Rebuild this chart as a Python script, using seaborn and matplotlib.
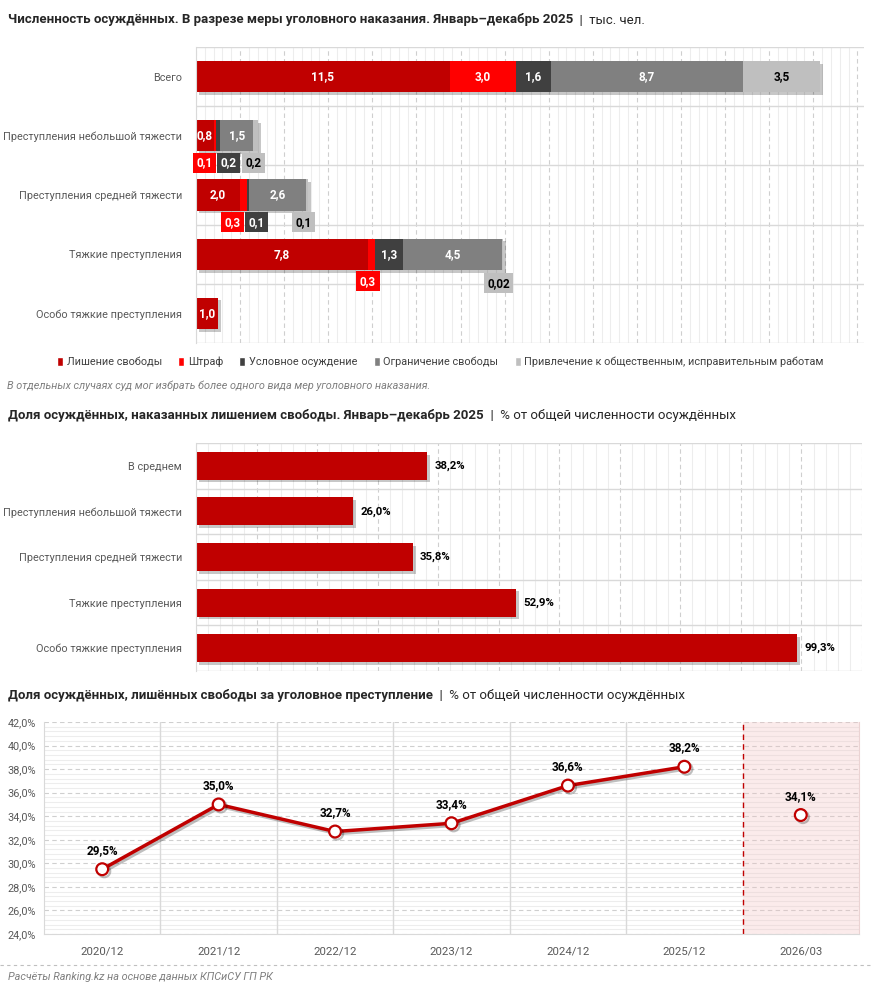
import matplotlib
matplotlib.use("Agg")
import matplotlib.pyplot as plt
import matplotlib.patheffects as pe
from matplotlib.patches import Patch
from matplotlib.lines import Line2D
from matplotlib.ticker import MultipleLocator, FuncFormatter, NullFormatter
import seaborn as sns
import numpy as np
import pandas as pd

# Численность осуждённых по мерам наказания, тыс. чел.
crime_groups = ["Всего", "Преступления небольшой тяжести", "Преступления средней тяжести",
                "Тяжкие преступления", "Особо тяжкие преступления"]
measures = ["Лишение свободы", "Штраф", "Условное осуждение", "Ограничение свободы",
            "Привлечение к общественным, исправительным работам"]
prison = [11.5, 0.8, 2.0, 7.8, 1.0]
fine = [3.0, 0.1, 0.3, 0.3, 0.0]
probation = [1.6, 0.2, 0.1, 1.3, 0.0]
restriction = [8.7, 1.5, 2.6, 4.5, 0.0]
community = [3.5, 0.2, 0.1, 0.02, 0.0]

# Доля лишённых свободы, %
share_groups = ["В среднем", "Преступления небольшой тяжести", "Преступления средней тяжести",
                "Тяжкие преступления", "Особо тяжкие преступления"]
share_prison = [38.2, 26.0, 35.8, 52.9, 99.3]

# Динамика доли, %
periods = ["2020/12", "2021/12", "2022/12", "2023/12", "2024/12", "2025/12", "2026/03"]
share_trend = [29.5, 35.0, 32.7, 33.4, 36.6, 38.2, 34.1]
n_full_years = 6

colors = ["#C00000", "#FF0000", "#404040", "#808080", "#BFBFBF"]
text_colors = ["white", "white", "white", "white", "black"]
GRAY_TXT = "#595959"

W, H = 872, 991
sns.set_style("white")
plt.rcParams["font.family"] = ["Roboto", "DejaVu Sans"]

fig = plt.figure(figsize=(W / 100, H / 100), dpi=100)


def fy(px):
    return 1 - px / H


def fmt(v, pct=False):
    s = f"{v:.1f}" if round(v, 1) == v else f"{v:.2f}"
    s = s.replace(".", ",")
    return s + "%" if pct else s


def title(y_px, bold, regular):
    t = fig.text(8 / W, fy(y_px), bold, fontsize=9.5, fontweight="bold", va="center")
    fig.canvas.draw()
    bb = t.get_window_extent()
    fig.text(bb.x1 / fig.bbox.width, fy(y_px), "  |  " + regular, fontsize=9.5, va="center")


def grid_style(ax, major, minor, axis):
    loc = ax.xaxis if axis == "x" else ax.yaxis
    loc.set_major_locator(MultipleLocator(major))
    loc.set_minor_locator(MultipleLocator(minor))
    ax.grid(which="major", axis=axis, ls=(0, (4, 3)), color="#CFCFCF", lw=0.8)
    ax.grid(which="minor", axis=axis, ls="-", color="#EDEDED", lw=0.8)
    ax.set_axisbelow(True)


shadow = [pe.withSimplePatchShadow(offset=(2, -2), shadow_rgbFace="black", alpha=0.22)]

# ---------- 1. Stacked bars ----------
title(20, "Численность осуждённых. В разрезе меры уголовного наказания. Январь–декабрь 2025", "тыс. чел.")
ax1 = fig.add_axes([196 / W, fy(343), 668 / W, 296 / H])
series = np.array([prison, fine, probation, restriction, community])
cums = series.cumsum(axis=0)
for k in reversed(range(len(measures))):
    sns.barplot(x=cums[k], y=crime_groups, color=colors[k], width=0.53, saturation=1,
                orient="h", errorbar=None, linewidth=0, ax=ax1)
for p in ax1.patches[:len(crime_groups)]:
    p.set_path_effects(shadow)

# подписи маленьких значений под столбцом: сдвиг по x (тыс. чел.)
small_nudge = {(1, 1): -0.45, (1, 2): 0.48, (1, 4): -0.1,
               (2, 1): -0.49, (2, 2): 0.39, (2, 4): -0.16,
               (3, 1): -0.15, (3, 4): -0.19}
for i in range(len(crime_groups)):
    for k in range(len(measures)):
        v = series[k][i]
        if v <= 0:
            continue
        center = cums[k][i] - v / 2
        if v >= 0.5:
            ax1.text(center, i, fmt(v), ha="center", va="center", color=text_colors[k],
                     fontsize=8.5, fontweight="bold")
        else:
            dy = 0.49 if k == 4 and i == 3 else 0.46
            ax1.text(center + small_nudge.get((i, k), 0), i + dy, fmt(v), ha="center", va="center",
                     color=text_colors[k], fontsize=8.5, fontweight="bold",
                     bbox=dict(boxstyle="square,pad=0.3", fc=colors[k], ec="none"))

ax1.set_xlim(0, 30.3)
ax1.set_ylim(len(crime_groups) - 0.5, -0.5)
grid_style(ax1, 2, 0.4, "x")
for b in np.arange(-0.5, len(crime_groups)):
    ax1.axhline(b, color="#D9D9D9", lw=1, zorder=0.6)
ax1.xaxis.set_major_formatter(NullFormatter())
ax1.tick_params(axis="both", which="both", length=0)
ax1.tick_params(axis="y", labelsize=7.8, labelcolor=GRAY_TXT, pad=10)
ax1.set_xlabel("")
ax1.set_ylabel("")
for s in ["top", "right", "bottom"]:
    ax1.spines[s].set_visible(False)
ax1.spines["left"].set_color("#D9D9D9")

handles = [Patch(facecolor=c, label=m) for c, m in zip(colors, measures)]
fig.legend(handles=handles, loc="center", bbox_to_anchor=(0.505, fy(362)), ncol=5, frameon=False,
           fontsize=7.8, handlelength=0.55, handleheight=0.9, handletextpad=0.35, columnspacing=1.5,
           labelcolor="#404040")
fig.text(7 / W, fy(386), "В отдельных случаях суд мог избрать более одного вида мер уголовного наказания.",
         style="italic", color="#7F7F7F", fontsize=7.8, va="center")

# ---------- 2. Share bars ----------
title(416, "Доля осуждённых, наказанных лишением свободы. Январь–декабрь 2025",
      "% от общей численности осуждённых")
ax2 = fig.add_axes([196 / W, fy(671), 666 / W, 228 / H])
sns.barplot(x=share_prison, y=share_groups, color="#C00000", width=0.61, saturation=1,
            orient="h", errorbar=None, linewidth=0, ax=ax2)
for p in ax2.patches:
    p.set_path_effects(shadow)
for i, v in enumerate(share_prison):
    ax2.annotate(fmt(v, pct=True), (v, i), xytext=(5, 0), textcoords="offset points",
                 ha="left", va="center", fontsize=8.2, fontweight="bold", color="black")
ax2.set_xlim(0, 110)
ax2.set_ylim(len(share_groups) - 0.5, -0.5)
grid_style(ax2, 10, 2, "x")
for b in np.arange(-0.5, len(share_groups)):
    ax2.axhline(b, color="#D9D9D9", lw=1, zorder=0.6)
ax2.xaxis.set_major_formatter(NullFormatter())
ax2.tick_params(axis="both", which="both", length=0)
ax2.tick_params(axis="y", labelsize=7.8, labelcolor=GRAY_TXT, pad=10)
ax2.set_xlabel("")
ax2.set_ylabel("")
for s in ["top", "right", "bottom"]:
    ax2.spines[s].set_visible(False)
ax2.spines["left"].set_color("#D9D9D9")

# ---------- 3. Line ----------
title(695, "Доля осуждённых, лишённых свободы за уголовное преступление",
      "% от общей численности осуждённых")
ax3 = fig.add_axes([44 / W, fy(934), 815 / W, 212 / H])
df = pd.DataFrame({"pos": np.arange(len(periods)), "share": share_trend})
line_fx = [pe.SimpleLineShadow(offset=(1.5, -1.5), alpha=0.25), pe.Normal()]
marker_kw = dict(marker="o", markersize=8.5, markerfacecolor="white", markeredgecolor="#C00000",
                 markeredgewidth=1.6)
sns.lineplot(data=df.iloc[:n_full_years], x="pos", y="share", color="#C00000", lw=2.5,
             path_effects=line_fx, zorder=4, ax=ax3, **marker_kw)
sns.lineplot(data=df.iloc[n_full_years:], x="pos", y="share", color="#C00000", lw=0,
             path_effects=line_fx, zorder=4, ax=ax3, **marker_kw)
for x, v in zip(df["pos"], df["share"]):
    ax3.annotate(fmt(v, pct=True), (x, v), xytext=(0, 13.5), textcoords="offset points",
                 ha="center", va="center", fontsize=8.5, fontweight="bold", color="black")

ax3.set_xlim(-0.5, len(periods) - 0.5)
ax3.set_ylim(24, 42)
grid_style(ax3, 2, 0.4, "y")
ax3.yaxis.set_major_formatter(FuncFormatter(lambda v, _: fmt(v, pct=True)))
ax3.set_xticks(df["pos"], periods)
for b in np.arange(0.5, n_full_years - 0.5):
    ax3.axvline(b, color="#D9D9D9", lw=1, zorder=0.6)
ax3.axvspan(n_full_years - 0.5, len(periods) - 0.5, color="#F2BFBF", alpha=0.3, lw=0, zorder=1)
ax3.axvline(n_full_years - 0.5, color="#C00000", ls=(0, (4, 3)), lw=1, zorder=2)
ax3.tick_params(axis="both", which="both", length=0)
ax3.tick_params(axis="y", labelsize=7.8, labelcolor=GRAY_TXT, pad=6)
ax3.tick_params(axis="x", labelsize=8.2, labelcolor=GRAY_TXT, pad=9)
ax3.set_xlabel("")
ax3.set_ylabel("")
ax3.spines["top"].set_visible(False)
for s in ["left", "bottom"]:
    ax3.spines[s].set_color("#D9D9D9")
ax3.spines["right"].set_color("#EBD3D3")

fig.add_artist(Line2D([0, 1], [fy(965), fy(965)], transform=fig.transFigure,
                      ls=(0, (3, 3)), color="#BFBFBF", lw=0.8))
fig.text(8 / W, fy(977), "Расчёты Ranking.kz на основе данных КПСиСУ ГП РК",
         style="italic", color="#7F7F7F", fontsize=7.8, va="center")

fig.savefig("out.png", dpi=100)
